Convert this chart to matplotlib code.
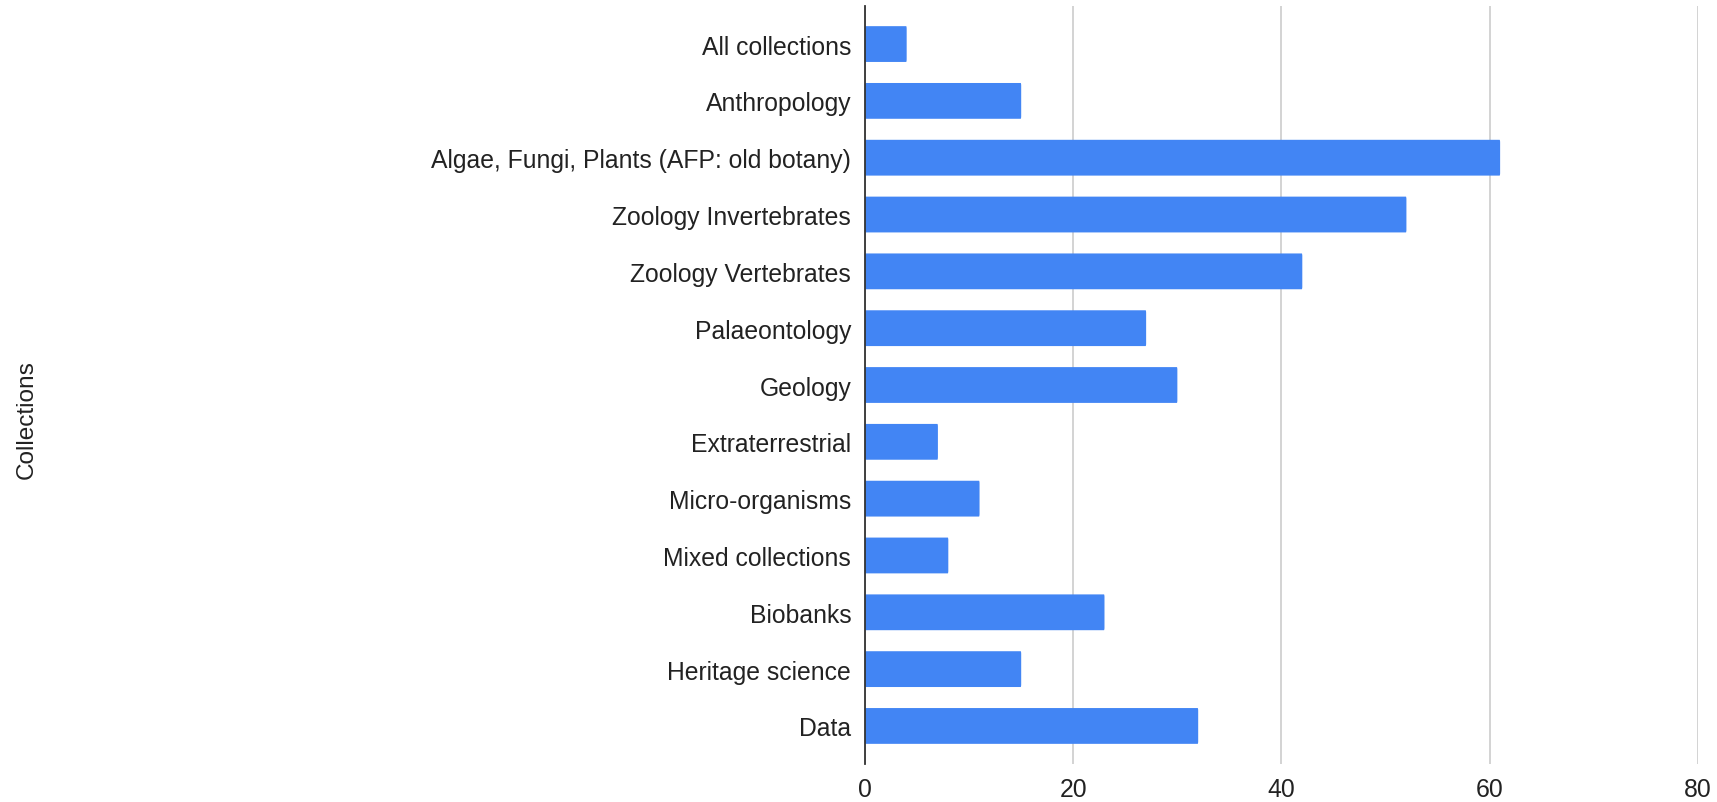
import matplotlib
matplotlib.use("Agg")
import matplotlib.pyplot as plt
from matplotlib.patches import FancyBboxPatch

categories = [
    "All collections",
    "Anthropology",
    "Algae, Fungi, Plants (AFP: old botany)",
    "Zoology Invertebrates",
    "Zoology Vertebrates",
    "Palaeontology",
    "Geology",
    "Extraterrestrial",
    "Micro-organisms",
    "Mixed collections",
    "Biobanks",
    "Heritage science",
    "Data",
]
values = [4, 15, 61, 52, 42, 27, 30, 7, 11, 8, 23, 15, 32]
x_ticks = [0, 20, 40, 60, 80]

plt.rcParams["font.family"] = ["Liberation Sans", "DejaVu Sans"]

fig = plt.figure(figsize=(17.17, 8.03), dpi=100)
ax = fig.add_axes([0.5038, 0.0473, 0.9889 - 0.5038, 0.9913 - 0.0473])

bar_color = "#4285F4"
bar_h = 0.63
ypos = list(range(len(categories)))
ax.set_xlim(0, 80)
ax.set_ylim(len(categories) - 1 + 0.67, -0.67)

# Bars with slightly rounded ends
for y, v in zip(ypos, values):
    patch = FancyBboxPatch(
        (0, y - bar_h / 2), v, bar_h,
        boxstyle="round,pad=0,rounding_size=0.05",
        facecolor=bar_color, edgecolor="none", zorder=3,
    )
    ax.add_patch(patch)

ax.set_yticks(ypos)
ax.set_yticklabels(categories)
ax.set_xticks(x_ticks)
ax.set_xticklabels([str(t) for t in x_ticks])

ax.grid(axis="x", color="#cccccc", linewidth=1.2, zorder=0)
ax.set_axisbelow(True)
for side in ("top", "right", "bottom"):
    ax.spines[side].set_visible(False)
ax.spines["left"].set_color("#333333")
ax.spines["left"].set_linewidth(1.3)
ax.spines["left"].set_zorder(4)

ax.tick_params(axis="both", length=0, labelsize=17.8, colors="#222222")
ax.tick_params(axis="y", pad=10)
ax.tick_params(axis="x", pad=9)

fig.text(0.0155, 0.4775, "Collections", rotation=90, ha="center", va="center",
         fontsize=17.6, color="#222222")

fig.savefig("out.png", dpi=100, facecolor="white")
